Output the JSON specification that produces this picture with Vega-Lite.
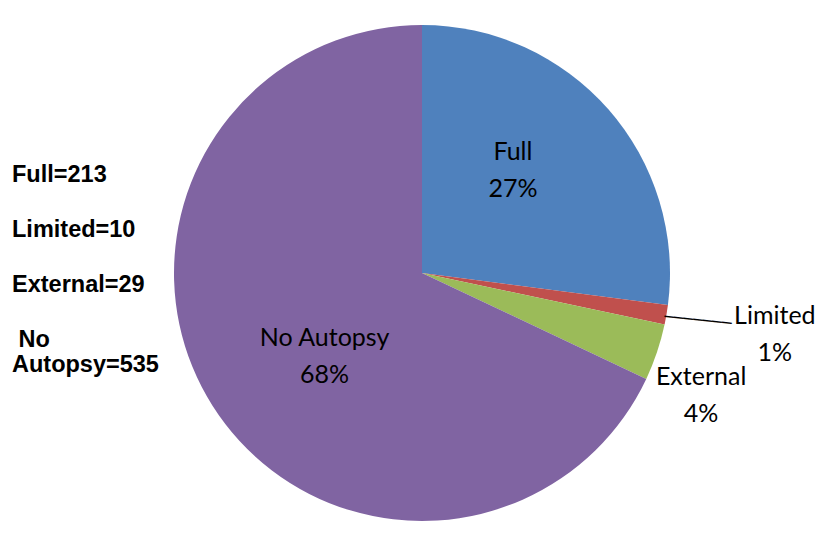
{
  "$schema": "https://vega.github.io/schema/vega-lite/v6.json",
  "width": 800,
  "height": 526,
  "autosize": {"type": "none"},
  "padding": {"left": 22, "top": 10, "right": 0, "bottom": 0},
  "background": "white",
  "config": {"view": {"stroke": null}},
  "datasets": {
    "autopsy": [
      {"category": "Full", "count": 213, "idx": 1},
      {"category": "Limited", "count": 10, "idx": 2},
      {"category": "External", "count": 29, "idx": 3},
      {"category": "No Autopsy", "count": 535, "idx": 4}
    ],
    "notes": [
      {"i": 0, "t": "Full=213"},
      {"i": 1, "t": "Limited=10"},
      {"i": 2, "t": "External=29"},
      {"i": 3, "t": ["\u200b\u00a0No", "Autopsy=535"]}
    ]
  },
  "data": {"name": "autopsy"},
  "layer": [
    {
      "mark": {"type": "arc", "radius": 248},
      "encoding": {
        "theta": {"field": "count", "type": "quantitative", "stack": true},
        "order": {"field": "idx", "type": "quantitative"},
        "color": {
          "field": "category",
          "type": "nominal",
          "scale": {
            "domain": ["Full", "Limited", "External", "No Autopsy"],
            "range": ["#4F81BD", "#C0504D", "#9BBB59", "#8064A2"]
          },
          "legend": null
        }
      }
    },
    {
      "transform": [
        {"joinaggregate": [{"op": "sum", "field": "count", "as": "total"}]},
        {"calculate": "[datum.category, format(datum.count / datum.total, '.0%')]", "as": "label"}
      ],
      "mark": {"type": "text", "radius": 137, "dx": -12, "dy": -31, "font": "Lato", "fontSize": 25, "lineHeight": 37, "align": "center", "baseline": "middle", "color": "black"},
      "encoding": {
        "theta": {"field": "count", "type": "quantitative", "stack": true},
        "order": {"field": "idx", "type": "quantitative"},
        "text": {"condition": {"test": "datum.category === 'Full'", "field": "label", "type": "nominal"}, "value": ""}
      }
    },
    {
      "transform": [
        {"joinaggregate": [{"op": "sum", "field": "count", "as": "total"}]},
        {"calculate": "[datum.category, format(datum.count / datum.total, '.0%')]", "as": "label"}
      ],
      "mark": {"type": "text", "radius": 126, "dx": 9, "dy": -2, "font": "Lato", "fontSize": 25, "lineHeight": 37, "align": "center", "baseline": "middle", "color": "black"},
      "encoding": {
        "theta": {"field": "count", "type": "quantitative", "stack": true},
        "order": {"field": "idx", "type": "quantitative"},
        "text": {"condition": {"test": "datum.category === 'No Autopsy'", "field": "label", "type": "nominal"}, "value": ""}
      }
    },
    {
      "transform": [
        {"joinaggregate": [{"op": "sum", "field": "count", "as": "total"}]},
        {"calculate": "[datum.category, format(datum.count / datum.total, '.0%')]", "as": "label"}
      ],
      "mark": {"type": "text", "radius": 358, "dx": 0, "dy": -17, "font": "Lato", "fontSize": 25, "lineHeight": 37, "align": "center", "baseline": "middle", "color": "black"},
      "encoding": {
        "theta": {"field": "count", "type": "quantitative", "stack": true},
        "order": {"field": "idx", "type": "quantitative"},
        "text": {"condition": {"test": "datum.category === 'Limited'", "field": "label", "type": "nominal"}, "value": ""}
      }
    },
    {
      "transform": [
        {"joinaggregate": [{"op": "sum", "field": "count", "as": "total"}]},
        {"calculate": "[datum.category, format(datum.count / datum.total, '.0%')]", "as": "label"}
      ],
      "mark": {"type": "text", "radius": 303, "dx": -8, "dy": 7, "font": "Lato", "fontSize": 25, "lineHeight": 37, "align": "center", "baseline": "middle", "color": "black"},
      "encoding": {
        "theta": {"field": "count", "type": "quantitative", "stack": true},
        "order": {"field": "idx", "type": "quantitative"},
        "text": {"condition": {"test": "datum.category === 'External'", "field": "label", "type": "nominal"}, "value": ""}
      }
    },
    {
      "mark": {"type": "text", "radius": 280, "angle": 6, "font": "DejaVu Sans Mono", "fontSize": 16, "align": "center", "baseline": "middle", "color": "black"},
      "encoding": {
        "theta": {"field": "count", "type": "quantitative", "stack": true},
        "order": {"field": "idx", "type": "quantitative"},
        "text": {"condition": {"test": "datum.category === 'Limited'", "value": "───────"}, "value": ""}
      }
    },
    {
      "data": {"name": "notes"},
      "mark": {"type": "text", "align": "left", "baseline": "alphabetic", "font": "Liberation Sans", "fontWeight": "bold", "fontSize": 23.5, "lineHeight": 25, "dx": -10, "color": "black"},
      "encoding": {
        "x": {"datum": 0, "type": "quantitative", "scale": {"domain": [0, 1]}, "axis": null},
        "y": {"field": "i", "type": "quantitative", "scale": {"domain": [0, 3], "range": [172, 337], "nice": false, "zero": false}, "axis": null},
        "text": {"field": "t", "type": "nominal"}
      }
    }
  ]
}
